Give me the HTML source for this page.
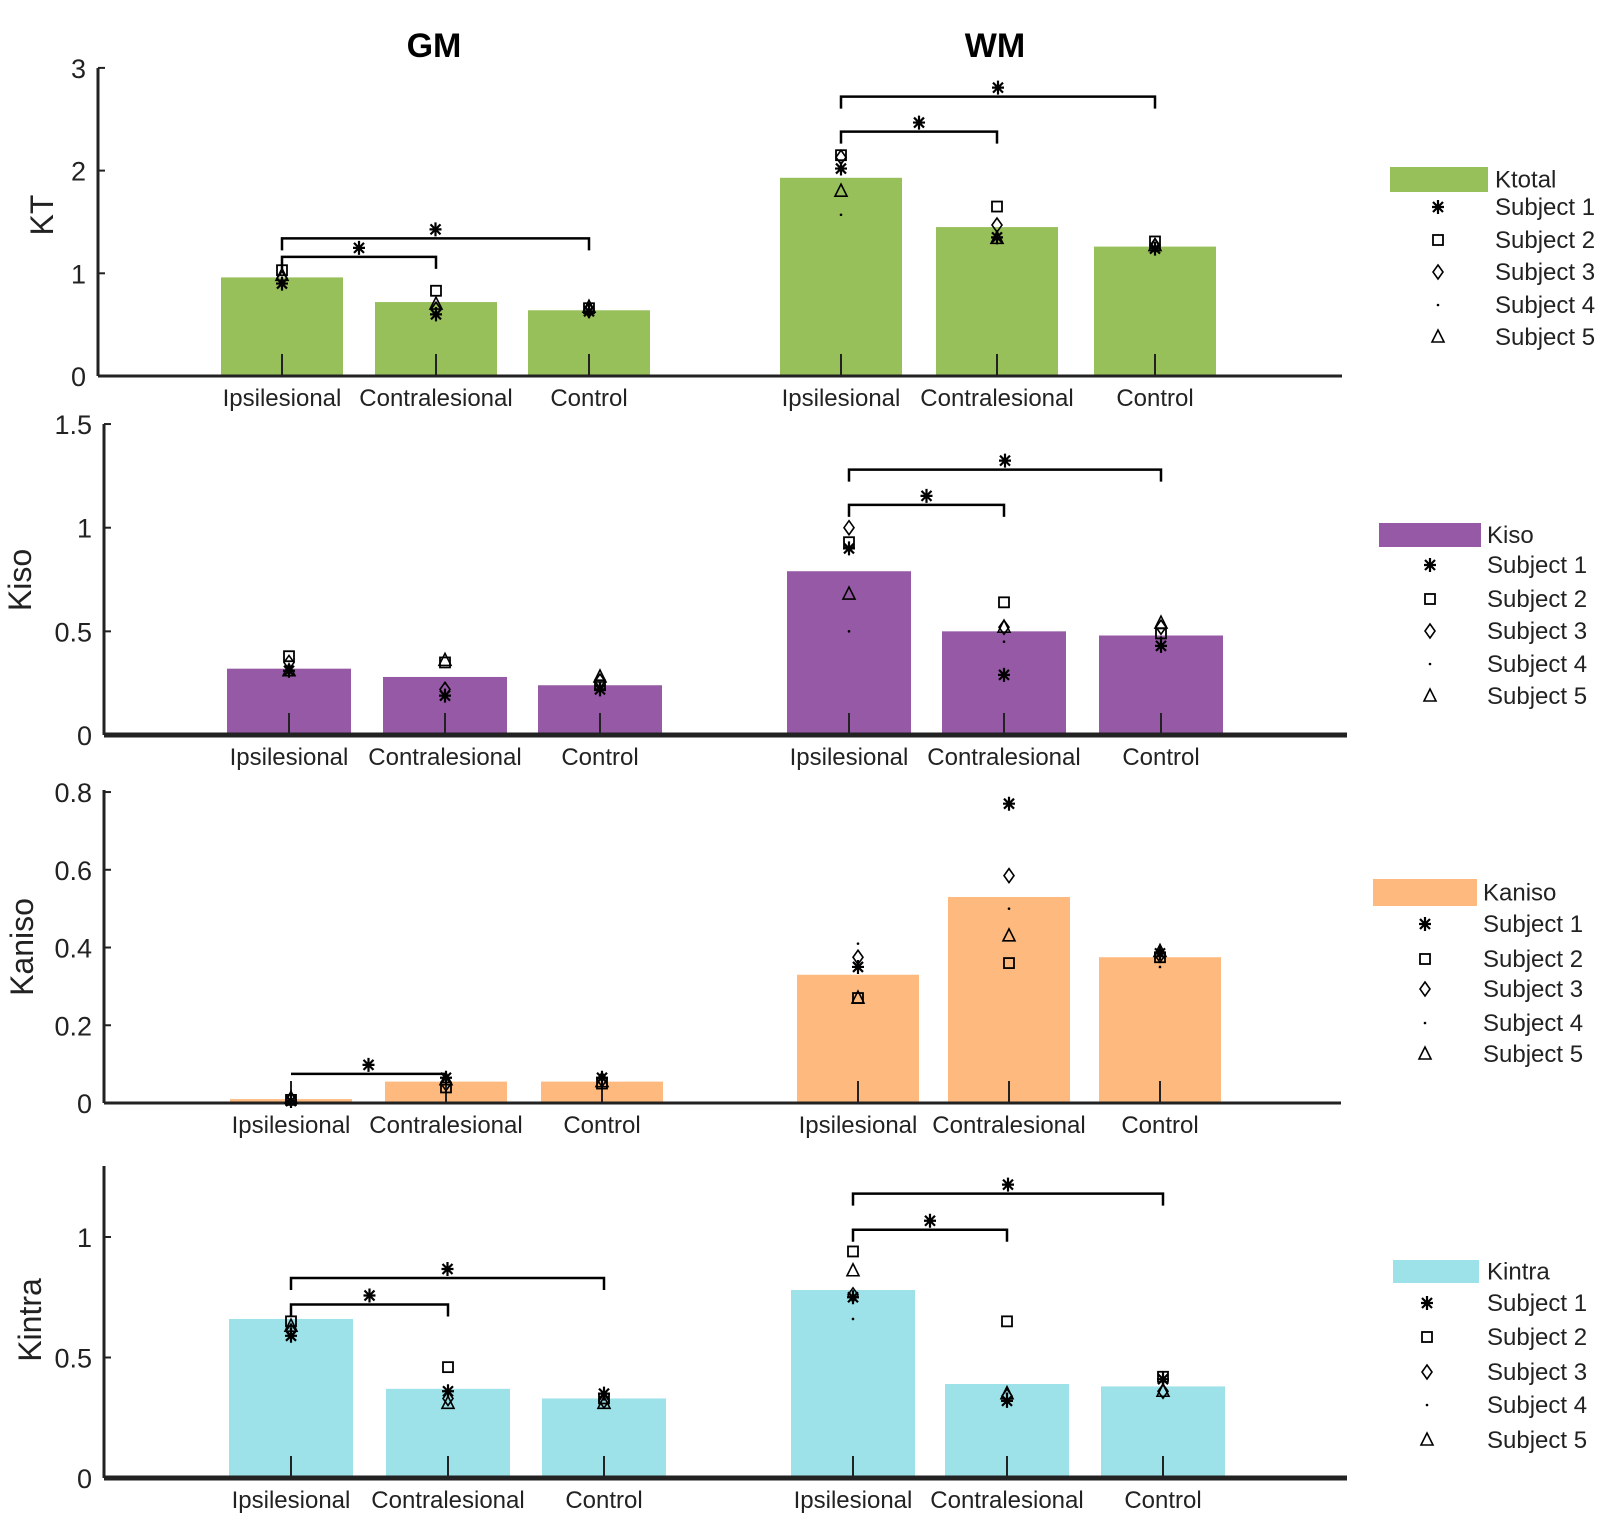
<!DOCTYPE html>
<html><head><meta charset="utf-8">
<style>
html,body{margin:0;padding:0;background:#fff;}
svg{display:block;font-family:"Liberation Sans",sans-serif;}
</style></head>
<body>
<svg id="fig" width="1621" height="1523" viewBox="0 0 1621 1523" xmlns="http://www.w3.org/2000/svg">
<text x="434" y="57" font-size="34" font-weight="bold" text-anchor="middle">GM</text>
<text x="995" y="57" font-size="34" font-weight="bold" text-anchor="middle">WM</text>
</svg>
<script>
// ---- data ----
const categories = ["Ipsilesional","Contralesional","Control","Ipsilesional","Contralesional","Control"];
const subjects = ["Subject 1","Subject 2","Subject 3","Subject 4","Subject 5"];
const ktotalBars = [0.96,0.72,0.64,1.93,1.45,1.26];
const kisoBars = [0.32,0.28,0.24,0.79,0.50,0.48];
const kanisoBars = [0.01,0.055,0.055,0.33,0.53,0.375];
const kintraBars = [0.66,0.37,0.33,0.78,0.39,0.38];
// per subject (rows = subject 1..5, cols = categories)
const ktotalPts = [
 [0.90,0.60,0.63,2.02,1.35,1.24],
 [1.03,0.83,0.66,2.15,1.65,1.31],
 [0.95,0.65,0.64,2.13,1.47,1.27],
 [0.94,0.66,0.63,1.57,1.40,1.27],
 [0.98,0.70,0.67,1.80,1.34,1.27]];
const kisoPts = [
 [0.31,0.19,0.22,0.90,0.29,0.43],
 [0.38,0.35,0.24,0.93,0.64,0.49],
 [0.35,0.22,0.26,1.00,0.52,0.52],
 [0.33,0.25,0.25,0.50,0.45,0.47],
 [0.31,0.36,0.28,0.68,0.52,0.54]];
const kanisoPts = [
 [0.005,0.065,0.065,0.35,0.77,0.385],
 [0.008,0.04,0.05,0.27,0.36,0.375],
 [0.01,0.05,0.06,0.375,0.585,0.38],
 [0.0,0.06,0.06,0.41,0.50,0.35],
 [0.012,0.06,0.055,0.27,0.43,0.39]];
const kintraPts = [
 [0.59,0.36,0.35,0.75,0.32,0.41],
 [0.65,0.46,0.33,0.94,0.65,0.42],
 [0.61,0.33,0.32,0.76,0.34,0.36],
 [0.62,0.35,0.33,0.66,0.35,0.39],
 [0.63,0.31,0.31,0.86,0.35,0.36]];
const ktotalTicks = [0,1,2,3];
const kisoTicks = [0,0.5,1,1.5];
const kanisoTicks = [0,0.2,0.4,0.6,0.8];
const kintraTicks = [0,0.5,1];
const tickLabels1 = ["0","1","2","3"];
const tickLabels2 = ["0","0.5","1","1.5"];
const tickLabels3 = ["0","0.2","0.4","0.6","0.8"];
const tickLabels4 = ["0","0.5","1"];
// significance brackets: [fromCat, toCat, level]
const ktotalSig = [[0,1,1.16],[0,2,1.34],[3,4,2.38],[3,5,2.72]];
const kisoSig = [[3,4,1.11],[3,5,1.28]];
const kanisoSig = [[0,1,0.075]];
const kintraSig = [[0,1,0.72],[0,2,0.83],[3,4,1.03],[3,5,1.18]];

// ---- layout ----
const panels = [
 {key:"ktotal",label:"KT",legend:"Ktotal",color:"#97bf5a",bars:ktotalBars,pts:ktotalPts,ticks:ktotalTicks,tl:tickLabels1,sig:ktotalSig,
  y0:376,ppu:102.7,top:68,left:98,right:1342,axw:3,cx:[282,436,589,841,997,1155],bw:122,ylx:42,yly:215,tickDrop:12,
  lg:{sx:1390,sy:167,sw:98,sh:25,tx:1495,mx:1438,ys:[207,240,272,305,337]}},
 {key:"kiso",label:"Kiso",legend:"Kiso",color:"#9659a6",bars:kisoBars,pts:kisoPts,ticks:kisoTicks,tl:tickLabels2,sig:kisoSig,
  y0:735,ppu:207.3,top:424,left:104,right:1347,axw:5,cx:[289,445,600,849,1004,1161],bw:124,ylx:20,yly:580,tickDrop:12,
  lg:{sx:1379,sy:523,sw:102,sh:24,tx:1487,mx:1430,ys:[565,599,631,664,696]}},
 {key:"kaniso",label:"Kaniso",legend:"Kaniso",color:"#fdb97e",bars:kanisoBars,pts:kanisoPts,ticks:kanisoTicks,tl:tickLabels3,sig:kanisoSig,
  y0:1103,ppu:388.7,top:790,left:104,right:1341,axw:3,cx:[291,446,602,858,1009,1160],bw:122,ylx:22,yly:947,tickDrop:0,
  lg:{sx:1373,sy:879,sw:104,sh:27,tx:1483,mx:1425,ys:[924,959,989,1023,1054]}},
 {key:"kintra",label:"Kintra",legend:"Kintra",color:"#9de2e9",bars:kintraBars,pts:kintraPts,ticks:kintraTicks,tl:tickLabels4,sig:kintraSig,
  y0:1478,ppu:241,top:1166,left:104,right:1347,axw:5,cx:[291,448,604,853,1007,1163],bw:124,ylx:30,yly:1320,tickDrop:12,
  lg:{sx:1393,sy:1260,sw:86,sh:23,tx:1487,mx:1427,ys:[1303,1337,1372,1405,1440]}}
];
const NS="http://www.w3.org/2000/svg";
const svg=document.getElementById("fig");
function mk(tag,attrs,parent){const e=document.createElementNS(NS,tag);for(const k in attrs)e.setAttribute(k,attrs[k]);(parent||svg).appendChild(e);return e;}

function marker(g,type,x,y){
  let e;
  if(type===0){
    e=mk("path",{d:`M${x-6},${y}H${x+6}M${x},${y-7}V${y+7}M${x-5},${y-5}L${x+5},${y+5}M${x-5},${y+5}L${x+5},${y-5}`,stroke:"#000","stroke-width":2.2,fill:"none"},g);
  }else if(type===1){
    e=mk("rect",{x:x-5,y:y-5,width:10,height:10,fill:"none",stroke:"#000","stroke-width":1.8},g);
  }else if(type===2){
    e=mk("path",{d:`M${x},${y-7}L${x+5},${y}L${x},${y+7}L${x-5},${y}Z`,fill:"none",stroke:"#000","stroke-width":1.6},g);
  }else if(type===3){
    e=mk("circle",{cx:x,cy:y,r:1.3,fill:"#000"},g);
  }else{
    e=mk("path",{d:`M${x},${y-7}L${x+6},${y+5}L${x-6},${y+5}Z`,fill:"none",stroke:"#000","stroke-width":1.6},g);
  }
  return e;
}

panels.forEach(p=>{
  const g=mk("g",{});
  
  
  const Y=v=>p.y0-v*p.ppu;
  // bars
  p.bars.forEach((v,i)=>{
    const r=mk("rect",{x:p.cx[i]-p.bw/2,y:Y(v),width:p.bw,height:p.y0-Y(v),fill:p.color},g);
    
    
  });
  // y axis
  const ya=mk("line",{x1:p.left,y1:p.top,x2:p.left,y2:p.y0,stroke:"#222","stroke-width":3},g);
  
  
  p.ticks.forEach((t,i)=>{
    mk("line",{x1:p.left,y1:Y(t),x2:p.left+7,y2:Y(t),stroke:"#222","stroke-width":2},g);
    const tx=mk("text",{x:p.left-12,y:Y(t)+10,"font-size":27,"text-anchor":"end",fill:"#222"},g);
    tx.textContent=p.tl[i];
    
    
  });
  // x axis
  const xa=mk("line",{x1:p.left,y1:p.y0,x2:p.right,y2:p.y0,stroke:"#222","stroke-width":p.axw},g);
  
  
  categories.forEach((c,i)=>{
    mk("line",{x1:p.cx[i],y1:p.y0,x2:p.cx[i],y2:p.y0-22,stroke:"#222","stroke-width":2},g);
    const t=mk("text",{x:p.cx[i],y:p.y0+30,"font-size":24,"text-anchor":"middle",fill:"#222"},g);
    t.textContent=c;
    
    
  });
  // y label
  const yl=mk("text",{x:p.ylx,y:p.yly,"font-size":32,"text-anchor":"middle",transform:`rotate(-90 ${p.ylx} ${p.yly})`,"dominant-baseline":"central",fill:"#222"},g);
  yl.textContent=p.label;
  
  
  // points
  p.pts.forEach((row,s)=>{
    row.forEach((v,i)=>{
      const m=marker(g,s,p.cx[i],Y(v));
      
      
    });
  });
  // significance
  p.sig.forEach(b=>{
    const a=p.cx[b[0]],c=p.cx[b[1]],y=Y(b[2]);
    const d=p.tickDrop?`M${a},${y+p.tickDrop}V${y}H${c}V${y+p.tickDrop}`:`M${a},${y}H${c}`;
    const br=mk("path",{d:d,fill:"none",stroke:"#000","stroke-width":2.5},g);
    
    
    const st=marker(g,0,(a+c)/2,y-9);
    
    
  });
  // legend
  const L=p.lg;
  const lg=mk("g",{},g);
  
  
  mk("rect",{x:L.sx,y:L.sy,width:L.sw,height:L.sh,fill:p.color},lg);
  const lt=mk("text",{x:L.tx,y:L.sy+L.sh/2+8,"font-size":24,fill:"#222"},lg);
  lt.textContent=p.legend;
  
  
  subjects.forEach((s,i)=>{
    marker(lg,i,L.mx,L.ys[i]);
    const t=mk("text",{x:L.tx,y:L.ys[i]+8,"font-size":24,fill:"#222"},lg);
    t.textContent=s;
    
    
  });
});
</script>
</body></html>
